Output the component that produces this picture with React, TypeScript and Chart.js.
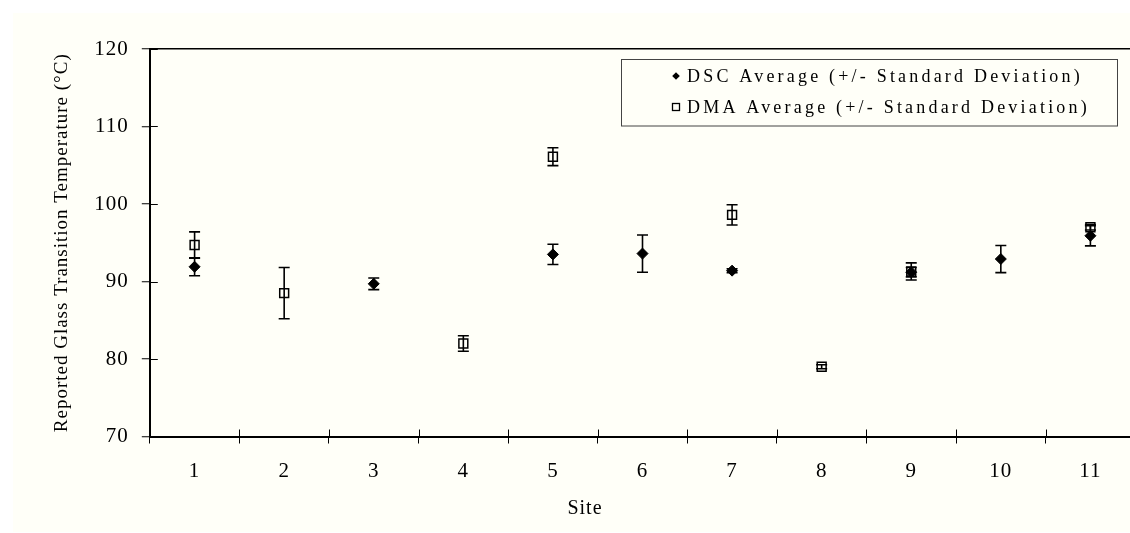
import React, { useEffect, useRef } from 'react';
import { Chart, registerables } from 'chart.js';

Chart.register(...registerables);

const sites = ['1', '2', '3', '4', '5', '6', '7', '8', '9', '10', '11'];
const dscMean = [91.9, null, 89.7, null, 93.5, 93.6, 91.4, null, 91.2, 92.9, 95.9];
const dscSD = [1.15, null, 0.75, null, 1.3, 2.4, 0.25, null, 0.6, 1.75, 1.3];
const dmaMean = [94.7, 88.5, null, 82.0, 106.1, null, 98.6, 79.0, 91.3, null, 97.0];
const dmaSD = [1.7, 3.3, null, 1.0, 1.15, null, 1.3, 0.25, 1.1, null, 0.35];
const yTicks = [70, 80, 90, 100, 110, 120];

const seriesLabels = [
  'DSC Average (+/- Standard Deviation)',
  'DMA Average (+/- Standard Deviation)',
];
const xTitle = 'Site';
const yTitle = 'Reported Glass Transition Temperature (°C)';

const FAMILY = "'Liberation Serif', 'Times New Roman', serif";
const BG = '#fffff8';
const CANVAS_W = 1143;

const bgPlugin = {
  id: 'bgPlugin',
  beforeDraw(chart: any) {
    const { ctx, width, height } = chart;
    ctx.save();
    ctx.fillStyle = '#ffffff';
    ctx.fillRect(0, 0, width, height);
    ctx.fillStyle = BG;
    ctx.fillRect(13, 13, width - 13, height - 14);
    ctx.restore();
    ctx.letterSpacing = '1px';
  },
};

const errorBars = {
  id: 'errorBars',
  beforeDatasetsDraw(chart: any) {
    const { ctx } = chart;
    const y = chart.scales.y;
    chart.data.datasets.forEach((ds: any, di: number) => {
      const meta = chart.getDatasetMeta(di);
      meta.data.forEach((pt: any, i: number) => {
        const m = ds.data[i];
        const s = ds.errors[i];
        if (m == null || s == null) return;
        const x = pt.x;
        const yt = y.getPixelForValue(m + s);
        const yb = y.getPixelForValue(m - s);
        ctx.save();
        ctx.strokeStyle = '#000';
        ctx.lineWidth = 1.6;
        ctx.beginPath();
        ctx.moveTo(x, yt);
        ctx.lineTo(x, yb);
        ctx.moveTo(x - 5.5, yt);
        ctx.lineTo(x + 5.5, yt);
        ctx.moveTo(x - 5.5, yb);
        ctx.lineTo(x + 5.5, yb);
        ctx.stroke();
        ctx.restore();
      });
    });
  },
  afterDatasetsDraw(chart: any) {
    chart.ctx.letterSpacing = '2px';
  },
};

const decor = {
  id: 'decor',
  afterDraw(chart: any) {
    const { ctx, chartArea: a } = chart;
    const x = chart.scales.x;
    const y = chart.scales.y;
    ctx.save();
    ctx.letterSpacing = '0px';
    // inner halves of crossing ticks
    ctx.strokeStyle = '#000';
    ctx.lineWidth = 1;
    ctx.beginPath();
    y.ticks.forEach((t: any) => {
      const py = Math.round(y.getPixelForValue(t.value)) + 0.5;
      ctx.moveTo(a.left, py);
      ctx.lineTo(a.left + 8, py);
    });
    for (let i = 0; i <= sites.length; i++) {
      const px = Math.round(x.getPixelForValue(i - 0.5)) + 0.5;
      ctx.moveTo(px, a.bottom);
      ctx.lineTo(px, a.bottom - 7);
    }
    ctx.stroke();

    // x title
    ctx.fillStyle = '#000';
    ctx.font = `20px ${FAMILY}`;
    ctx.letterSpacing = '1px';
    ctx.textAlign = 'center';
    ctx.textBaseline = 'middle';
    ctx.fillText(xTitle, 585, 509);

    // legend
    const L = 621, T = 59.5, R = 1118, B = 126;
    ctx.fillStyle = BG;
    ctx.fillRect(L, T, R - L, B - T);
    ctx.strokeStyle = '#444';
    ctx.lineWidth = 1;
    ctx.strokeRect(L + 0.5, T, R - L - 1, B - T);
    const rows = [76, 107];
    const mx = 676;
    // diamond
    ctx.fillStyle = '#000';
    ctx.beginPath();
    ctx.moveTo(mx - 3.8, rows[0]);
    ctx.lineTo(mx, rows[0] - 3.8);
    ctx.lineTo(mx + 3.8, rows[0]);
    ctx.lineTo(mx, rows[0] + 3.8);
    ctx.closePath();
    ctx.fill();
    // square
    ctx.strokeStyle = '#000';
    ctx.lineWidth = 1.3;
    ctx.strokeRect(mx - 3.5, rows[1] - 3.5, 7, 7);
    ctx.font = `18px ${FAMILY}`;
    ctx.letterSpacing = '3.2px';
    ctx.textAlign = 'left';
    ctx.textBaseline = 'middle';
    ctx.fillStyle = '#000';
    seriesLabels.forEach((lab, i) => ctx.fillText(lab, 687, rows[i] + 1));
    ctx.restore();
  },
};

export default function App() {
  const ref = useRef<HTMLCanvasElement | null>(null);
  useEffect(() => {
    if (!ref.current) return;
    const chart = new Chart(ref.current, {
      type: 'line',
      data: {
        labels: sites,
        datasets: [
          {
            label: seriesLabels[0],
            data: dscMean,
            errors: dscSD,
            showLine: false,
            pointStyle: 'rectRot',
            pointRadius: 5.5,
            pointHoverRadius: 5.5,
            pointBackgroundColor: '#000',
            pointBorderColor: '#000',
            pointBorderWidth: 1,
          } as any,
          {
            label: seriesLabels[1],
            data: dmaMean,
            errors: dmaSD,
            showLine: false,
            pointStyle: 'rect',
            pointRadius: 6.3,
            pointHoverRadius: 6.3,
            pointBackgroundColor: 'rgba(0,0,0,0)',
            pointBorderColor: '#000',
            pointBorderWidth: 1.5,
          } as any,
        ],
      },
      options: {
        animation: false,
        responsive: false,
        events: [],
        layout: { padding: { top: 49, right: 0, left: 0, bottom: 0 } },
        plugins: { legend: { display: false }, tooltip: { enabled: false } },
        scales: {
          x: {
            type: 'category',
            offset: true,
            z: 1,
            grid: { offset: true, drawOnChartArea: false, tickLength: 7, tickColor: '#000', tickWidth: 1 },
            border: { color: '#000', width: 2 },
            ticks: { font: { family: FAMILY, size: 21 }, color: '#000', padding: 15, maxRotation: 0, autoSkip: false },
            afterFit: (s: any) => { s.height = 96.5; s.paddingLeft = 0; s.paddingRight = 0; },
          },
          y: {
            min: yTicks[0],
            max: yTicks[yTicks.length - 1],
            z: 1,
            afterBuildTicks: (s: any) => { s.ticks = yTicks.map((v) => ({ value: v })); },
            ticks: { font: { family: FAMILY, size: 21 }, color: '#000', padding: 13 },
            grid: {
              color: (c: any) => (c.tick && c.tick.value === 120 ? '#000' : 'rgba(0,0,0,0)'),
              lineWidth: 1.5,
              tickColor: '#000',
              tickLength: 8,
              tickWidth: 1,
            },
            border: { color: '#000', width: 2 },
            title: { display: true, text: yTitle, font: { family: FAMILY, size: 19 }, color: '#000', padding: { top: 51, bottom: 0 } },
            afterFit: (s: any) => { s.width = 149.8; },
          },
        },
      } as any,
      plugins: [bgPlugin, errorBars, decor],
    });
    return () => chart.destroy();
  }, []);
  return (
    <div style={{ position: 'absolute', left: 0, top: 0, width: 1130, height: 533, overflow: 'hidden', background: '#fff' }}>
      <canvas ref={ref} width={CANVAS_W} height={533} style={{ width: CANVAS_W, height: 533, display: 'block' }} />
    </div>
  );
}
